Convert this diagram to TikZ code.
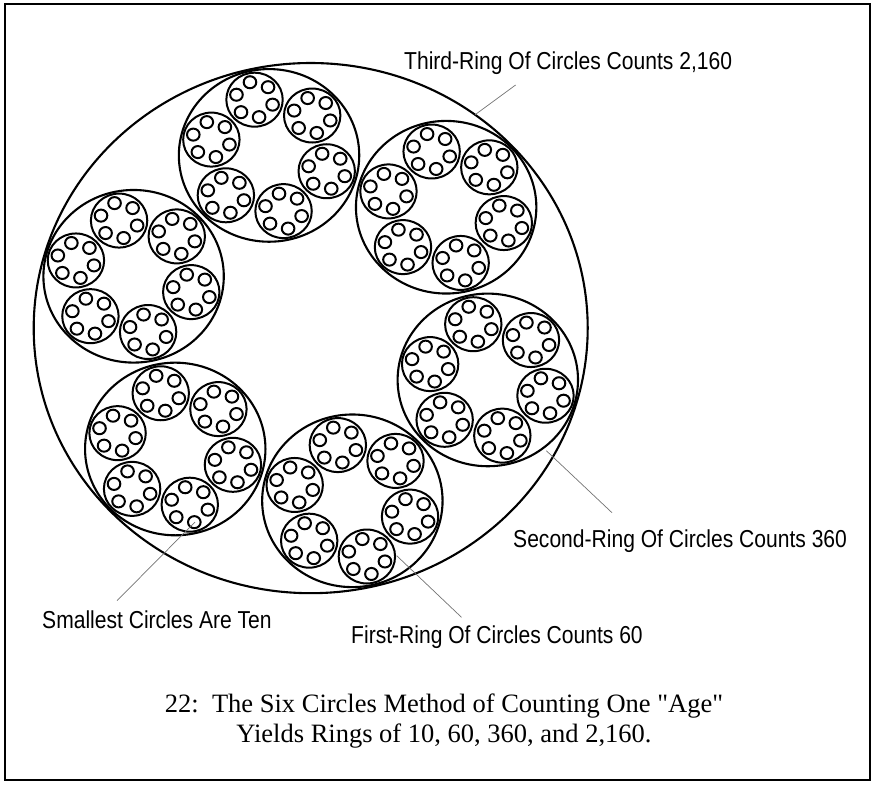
\documentclass[tikz,border=0pt]{standalone}
\usepackage{fontspec}
\setmainfont{Liberation Serif}[Ligatures=TeXOff]
\newfontfamily\labfont[FakeStretch=0.86]{Liberation Sans}
\begin{document}
\begin{tikzpicture}[x=1pt,y=-1pt,
  ring/.style={line width=2.1pt},
  sub/.style={line width=2pt},
  lead/.style={draw=black!55, line width=0.7pt},
  lab/.style={anchor=base west, inner sep=0pt, font=\labfont\fontsize{24.5}{29}\selectfont},
  capt/.style={anchor=base, inner sep=0pt, font=\fontsize{26.5}{30.5}\selectfont}]
\useasboundingbox (0,0) rectangle (874,784);
\draw[line width=2pt] (4.5,4.5) rectangle (870,780);
% circles
\begin{scope}[shift={(310.7,328.1)}, yscale=0.957]
  \draw[ring] (0,0) circle[radius=277pt];
  \coordinate (t3) at (53.6:277pt);
  \foreach \a in {0,...,5} {
    \begin{scope}[shift={({43+60*\a}:185.2pt)}]
      \draw[ring] (0,0) circle[radius=90.2pt];
      \foreach \b in {0,...,5} {
        \begin{scope}[shift={({44+60*\b}:60pt)}]
          \draw[sub] (0,0) circle[radius=28.2pt];
          \foreach \c in {0,...,5} {
            \draw[sub] ({44+60*\c}:18.8pt) circle[radius=6.3pt];
          }
        \end{scope}
      }
    \end{scope}
  }
\end{scope}
% labels
\node[lab] (l3) at (404,69) {Third-Ring Of Circles Counts 2,160};
\node[lab] (l2) at (513,547.7) {Second-Ring Of Circles Counts 360};
\node[lab] (l0) at (42,628) {Smallest Circles Are Ten};
\node[lab] (l1) at (351,643) {First-Ring Of Circles Counts 60};
\coordinate (l3e) at (515.6,85);
\coordinate (s2a) at (546.3,450.7);
\coordinate (s2b) at (612,512.7);
\coordinate (s0a) at (195,522);
\coordinate (s0b) at (117,600.7);
\coordinate (s1a) at (396.7,555.7);
\coordinate (s1b) at (461.5,617.3);
\draw[lead] (l3e) -- (t3);
\draw[lead] (s2a) -- (s2b);
\draw[lead] (s0a) -- (s0b);
\draw[lead] (s1a) -- (s1b);
% caption
\node[capt] (c1) at (444,712) {22:\ \ The Six Circles Method of Counting One "Age"};
\node[capt] (c2) at (444,742.5) {Yields Rings of 10, 60, 360, and 2,160.};
\end{tikzpicture}
\end{document}
